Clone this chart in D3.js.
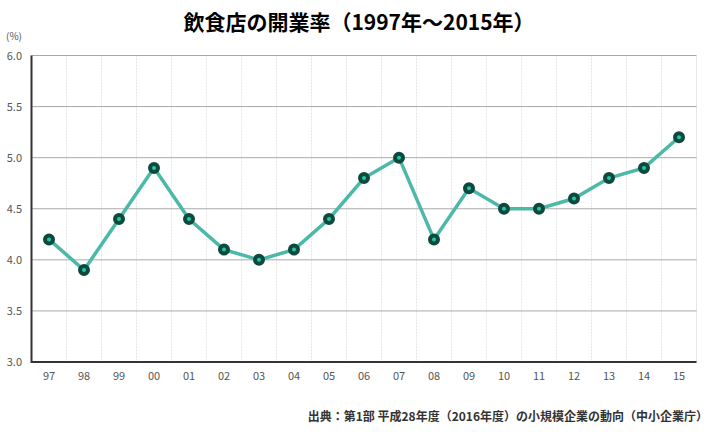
<!DOCTYPE html><html><head><meta charset="utf-8"><script src="https://cdn.jsdelivr.net/npm/d3@7"></script>
<style>body{margin:0;background:#fff}text{font-family:"Noto Sans CJK JP","Noto Sans",sans-serif}</style></head><body>
<svg id="c" width="718" height="432"></svg>
<script>
const years=["97","98","99","00","01","02","03","04","05","06","07","08","09","10","11","12","13","14","15"];
const rates=[4.2,3.9,4.4,4.9,4.4,4.1,4.0,4.1,4.4,4.8,5.0,4.2,4.7,4.5,4.5,4.6,4.8,4.9,5.2];
const yTicks=[3.0,3.5,4.0,4.5,5.0,5.5,6.0];
const title="飲食店の開業率（1997年～2015年）";
const source="出典：第1部 平成28年度（2016年度）の小規模企業の動向（中小企業庁）";
const svg=d3.select("#c");
const L=31.5,R=696.5,T=55.5,B=362;
const x=d3.scaleBand().domain(years).range([L,R]);
const y=d3.scaleLinear().domain([3,6]).range([B,T]);
svg.append("text").attr("x",359).attr("y",30).attr("text-anchor","middle").attr("font-size",21).attr("font-weight","bold").text(title);
svg.append("text").attr("x",6).attr("y",40).attr("font-size",10).attr("fill","#555").text("(%)");
years.slice(1).forEach(d=>svg.append("line").attr("x1",x(d)).attr("x2",x(d)).attr("y1",T).attr("y2",B).attr("stroke","#e6e6e6").attr("stroke-dasharray","2,1"));
svg.append("line").attr("x1",R).attr("x2",R).attr("y1",T).attr("y2",B).attr("stroke","#e6e6e6");
yTicks.forEach(t=>{
 svg.append("line").attr("x1",L).attr("x2",R).attr("y1",y(t)).attr("y2",y(t)).attr("stroke",t==3?"#333":"#aaa").attr("stroke-width",t==3?2:1);
 svg.append("text").attr("x",22).attr("y",y(t)+4).attr("text-anchor","end").attr("font-size",11).attr("fill","#555").text(t.toFixed(1));
});
svg.append("line").attr("x1",L).attr("x2",L).attr("y1",T).attr("y2",B+1).attr("stroke","#333").attr("stroke-width",2);
years.forEach(d=>svg.append("text").attr("x",x(d)+x.bandwidth()/2).attr("y",380).attr("text-anchor","middle").attr("font-size",11).attr("fill","#555").text(d));
const cx=(d,i)=>x(years[i])+x.bandwidth()/2;
svg.append("path").datum(rates).attr("fill","none").attr("stroke","#4cb8a8").attr("stroke-width",3.5)
 .attr("d",d3.line().x((d,i)=>cx(d,i)).y(d=>y(d)));
svg.selectAll("circle").data(rates).join("circle").attr("cx",cx).attr("cy",d=>y(d)).attr("r",4)
 .attr("fill","#1fc9b0").attr("stroke","#0e4a3c").attr("stroke-width",4);
svg.append("text").attr("x",708).attr("y",421).attr("text-anchor","end").attr("font-size",12).attr("font-weight","bold").attr("fill","#333").text(source);
</script></body></html>
